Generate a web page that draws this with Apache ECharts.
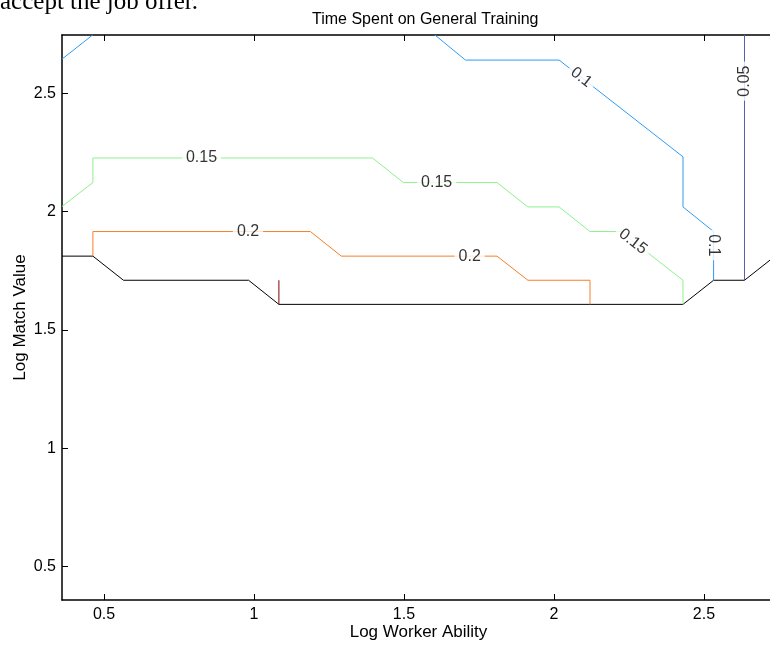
<!DOCTYPE html>
<html>
<head>
<meta charset="utf-8">
<script src="https://cdn.jsdelivr.net/npm/echarts@6/dist/echarts.min.js"></script>
<style>
  html, body { margin: 0; padding: 0; background: #fff; }
  #main { width: 770px; height: 646px; }
</style>
</head>
<body>
<div id="main"></div>
<script>
var xTicks = [0.5, 1, 1.5, 2, 2.5];
var yTicks = [0.5, 1, 1.5, 2, 2.5];

// contour lines (log worker ability, log match value)
var c005X = [2.635, 2.635];
var c005Y = [2.75, 1.71];
var c01aX = [0.36, 0.463];
var c01aY = [2.645, 2.748];
var c01bX = [1.602, 1.705, 2.017, 2.43, 2.43, 2.532, 2.532];
var c01bY = [2.748, 2.641, 2.641, 2.232, 2.02, 1.916, 1.71];
var c015X = [0.36, 0.463, 0.463, 1.395, 1.498, 1.81, 1.913, 2.017, 2.12, 2.222, 2.43, 2.43];
var c015Y = [2.022, 2.123, 2.227, 2.227, 2.123, 2.123, 2.02, 2.02, 1.916, 1.916, 1.71, 1.608];
var c02X = [0.463, 0.463, 1.188, 1.291, 1.81, 1.913, 2.12, 2.12];
var c02Y = [1.812, 1.916, 1.916, 1.812, 1.812, 1.71, 1.71, 1.608];
var c025X = [1.083, 1.083];
var c025Y = [1.71, 1.608];
var edgeX = [0.36, 0.463, 0.565, 0.982, 1.083, 2.43, 2.532, 2.635, 2.737];
var edgeY = [1.812, 1.812, 1.71, 1.71, 1.608, 1.608, 1.71, 1.71, 1.812];

// contour labels
var labText = ['0.15', '0.15', '0.15', '0.2', '0.2', '0.1', '0.1', '0.05'];
var labX = [0.825, 1.609, 2.263, 0.98, 1.719, 2.091, 2.532, 2.635];
var labY = [2.227, 2.123, 1.873, 1.916, 1.812, 2.568, 1.858, 2.552];
var labRot = [0, 0, -38, 0, 0, -38, -90, 90];

var font = 'Liberation Sans, Arial, sans-serif';

function pts(xs, ys) {
  var out = [];
  for (var i = 0; i < xs.length; i++) out.push([xs[i], ys[i]]);
  return out;
}

function contour(name, xs, ys, color) {
  return {
    name: name,
    type: 'line',
    data: pts(xs, ys),
    showSymbol: false,
    symbol: 'none',
    lineStyle: { color: color, width: 1 },
    silent: true
  };
}

var labData = [];
for (var i = 0; i < labText.length; i++) {
  labData.push({ name: labText[i], value: [labX[i], labY[i]], label: { rotate: labRot[i] } });
}

var chart = echarts.init(document.getElementById('main'));

var option = {
  animation: false,
  backgroundColor: '#fff',
  title: {
    text: 'Time Spent on General Training',
    left: 307,
    top: 7,
    textStyle: { fontFamily: font, fontSize: 16, fontWeight: 'normal', color: '#000' }
  },
  graphic: [{
    type: 'text',
    left: 0,
    top: -10,
    style: { text: 'accept the job offer.', font: '25px "Liberation Serif", serif', fill: '#000' }
  }],
  grid: { left: 62, right: -5, top: 35, bottom: 46, outerBoundsMode: 'none' },
  xAxis: [{
    type: 'value',
    min: 0.36,
    max: 2.7367,
    name: 'Log Worker Ability',
    nameLocation: 'middle',
    nameGap: 24,
    nameMoveOverlap: false,
    nameTextStyle: { fontFamily: font, fontSize: 17, color: '#000' },
    axisLine: { lineStyle: { color: '#000', width: 1.5 } },
    axisTick: { inside: true, length: 6, customValues: xTicks, lineStyle: { color: '#000' } },
    axisLabel: { customValues: xTicks, margin: 7, fontFamily: font, fontSize: 16, color: '#000' },
    splitLine: { show: false }
  }, {
    type: 'value',
    position: 'top',
    min: 0.36,
    max: 2.7367,
    axisLine: { lineStyle: { color: '#000', width: 1.5 } },
    axisTick: { inside: true, length: 6, customValues: xTicks, lineStyle: { color: '#000' } },
    axisLabel: { show: false },
    splitLine: { show: false }
  }],
  yAxis: {
    type: 'value',
    min: 0.358,
    max: 2.747,
    name: 'Log Match Value',
    nameLocation: 'middle',
    nameGap: 33,
    nameMoveOverlap: false,
    nameTextStyle: { fontFamily: font, fontSize: 17, color: '#000' },
    axisLine: { show: true, lineStyle: { color: '#000', width: 1.5 } },
    axisTick: { show: true, inside: true, length: 6, customValues: yTicks, lineStyle: { color: '#000' } },
    axisLabel: { customValues: yTicks, margin: 6, fontFamily: font, fontSize: 16, color: '#000' },
    splitLine: { show: false }
  },
  series: [
    contour('edge', edgeX, edgeY, '#000000'),
    contour('0.05', c005X, c005Y, '#5c5cb0'),
    contour('0.1a', c01aX, c01aY, '#2f9bf5'),
    contour('0.1b', c01bX, c01bY, '#2f9bf5'),
    contour('0.15', c015X, c015Y, '#8ef08e'),
    contour('0.2', c02X, c02Y, '#f5802a'),
    contour('0.25', c025X, c025Y, '#800000'),
    {
      name: 'labels',
      type: 'scatter',
      z: 5,
      symbolSize: 1,
      itemStyle: { color: 'transparent' },
      silent: true,
      data: labData,
      label: {
        show: true,
        position: 'inside',
        formatter: function (p) { return p.name; },
        fontFamily: font,
        fontSize: 16,
        color: '#000',
        backgroundColor: '#fff',
        padding: [0, 4]
      }
    }
  ]
};

chart.setOption(option);
</script>
</body>
</html>
